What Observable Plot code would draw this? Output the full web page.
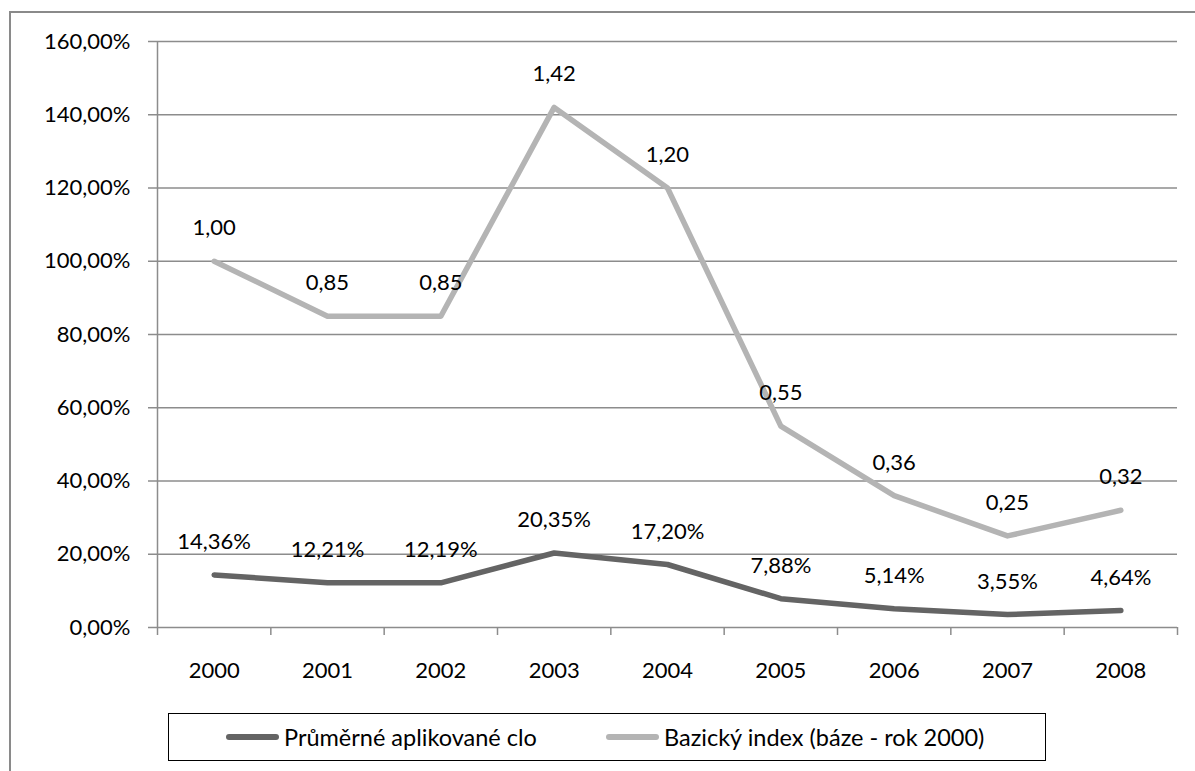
<!DOCTYPE html>
<html>
<head>
<meta charset="utf-8">
<script src="https://cdn.jsdelivr.net/npm/d3@7"></script>
<script src="https://cdn.jsdelivr.net/npm/@observablehq/plot@0.6"></script>
<style>
  body { margin: 0; background: #fff; font-family: Lato, "Open Sans", sans-serif; }
  #wrap { position: relative; width: 1195px; height: 771px; overflow: hidden; background: #fff; }
  #frame { position: absolute; left: 9px; top: 11px; right: -10px; bottom: -10px; border: 2px solid #8a8a8a; }
  #chart { position: absolute; left: 0; top: 0; }
  #legend { position: absolute; left: 168px; top: 713px; width: 876px; height: 46px; border: 1.5px solid #000; background: #fff; font-size: 23.5px; color: #000; }
  .item { position: absolute; top: 0; height: 46px; display: flex; align-items: center; white-space: nowrap; }
  .sw { width: 53px; height: 6px; border-radius: 3px; margin-right: 5px; }
</style>
</head>
<body>
<div id="wrap">
  <div id="frame"></div>
  <div id="chart"></div>
  <div id="legend"></div>
</div>
<script>
const years = [2000, 2001, 2002, 2003, 2004, 2005, 2006, 2007, 2008];
const cloValues = [14.36, 12.21, 12.19, 20.35, 17.20, 7.88, 5.14, 3.55, 4.64];
const indexValues = [1.00, 0.85, 0.85, 1.42, 1.20, 0.55, 0.36, 0.25, 0.32];
const yTicks = [0, 20, 40, 60, 80, 100, 120, 140, 160];
const seriesNames = ["Průměrné aplikované clo", "Bazický index (báze - rok 2000)"];
const seriesColors = ["#646464", "#b4b4b4"];

const fmt2 = v => v.toFixed(2).replace(".", ",");
const data = years.map((year, i) => ({
  year,
  clo: cloValues[i],
  idx: indexValues[i] * 100,
  idxLabel: indexValues[i]
}));
const bounds = d3.range(years.length + 1).map(i => years[0] - 0.5 + i);

const chart = Plot.plot({
  width: 1195,
  height: 771,
  marginLeft: 157,
  marginTop: 41,
  marginRight: 18,
  marginBottom: 144,
  style: { fontFamily: "Lato, 'Open Sans', sans-serif", fontSize: "22px", color: "#000", background: "transparent", overflow: "visible" },
  x: { type: "linear", domain: [bounds[0], bounds[bounds.length - 1]], ticks: years, tickFormat: d => String(d), tickSize: 0, tickPadding: 35, label: null },
  y: { domain: [0, 160], ticks: yTicks, tickFormat: d => fmt2(d) + "%", tickSize: 0, tickPadding: 27, label: null },
  marks: [
    Plot.ruleY(yTicks, { stroke: "#8c8c8c", strokeWidth: 1.5, insetLeft: -9 }),
    Plot.ruleX([bounds[0]], { y1: 0, y2: 160, stroke: "#8c8c8c", strokeWidth: 1.5 }),
    Plot.ruleX(bounds, { y1: 0, y2: 0, insetBottom: -8, stroke: "#8c8c8c", strokeWidth: 1.5 }),
    Plot.line(data, { x: "year", y: "idx", stroke: seriesColors[1], strokeWidth: 5.5, strokeLinejoin: "round", strokeLinecap: "round" }),
    Plot.line(data, { x: "year", y: "clo", stroke: seriesColors[0], strokeWidth: 5.5, strokeLinejoin: "round", strokeLinecap: "round" }),
    Plot.text(data, { x: "year", y: "idx", text: d => fmt2(d.idxLabel), dy: -33, fill: "#000" }),
    Plot.text(data, { x: "year", y: "clo", text: d => fmt2(d.clo) + "%", dy: -33, fill: "#000" })
  ]
});
document.getElementById("chart").appendChild(chart);

const legend = document.getElementById("legend");
const offsets = [57, 437];
seriesNames.forEach((name, i) => {
  const item = document.createElement("div");
  item.className = "item";
  item.style.left = offsets[i] + "px";
  const sw = document.createElement("div");
  sw.className = "sw";
  sw.style.background = seriesColors[i];
  const label = document.createElement("span");
  label.textContent = name;
  item.appendChild(sw);
  item.appendChild(label);
  legend.appendChild(item);
});
</script>
</body>
</html>
